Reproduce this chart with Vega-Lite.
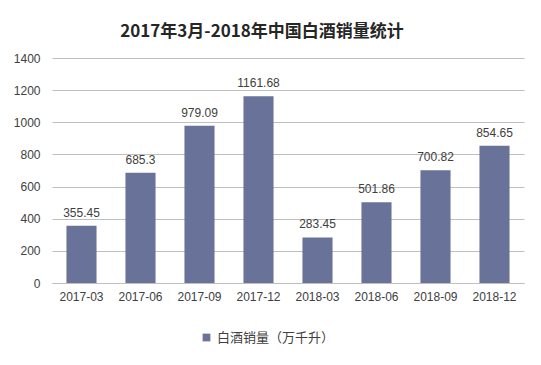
{
  "$schema": "https://vega.github.io/schema/vega-lite/v6.json",
  "width": 472,
  "height": 225,
  "autosize": {"type": "none"},
  "padding": {"left": 52, "top": 58, "right": 17, "bottom": 82},
  "background": "white",
  "title": {
    "text": "2017年3月-2018年中国白酒销量统计",
    "font": "Noto Sans CJK SC",
    "fontSize": 17,
    "fontWeight": "bold",
    "color": "#262626",
    "anchor": "middle",
    "dx": -26,
    "offset": 11
  },
  "data": {
    "values": [
      {"month": "2017-03", "value": 355.45, "series": "白酒销量（万千升）"},
      {"month": "2017-06", "value": 685.3, "series": "白酒销量（万千升）"},
      {"month": "2017-09", "value": 979.09, "series": "白酒销量（万千升）"},
      {"month": "2017-12", "value": 1161.68, "series": "白酒销量（万千升）"},
      {"month": "2018-03", "value": 283.45, "series": "白酒销量（万千升）"},
      {"month": "2018-06", "value": 501.86, "series": "白酒销量（万千升）"},
      {"month": "2018-09", "value": 700.82, "series": "白酒销量（万千升）"},
      {"month": "2018-12", "value": 854.65, "series": "白酒销量（万千升）"}
    ]
  },
  "encoding": {
    "x": {
      "field": "month",
      "type": "nominal",
      "sort": null,
      "scale": {"paddingInner": 0.49, "paddingOuter": 0.245},
      "axis": {
        "title": null,
        "labelAngle": 0,
        "labelFont": "Liberation Sans",
        "labelFontSize": 12,
        "labelColor": "#404040",
        "labelPadding": 8,
        "ticks": false,
        "domainColor": "#bfbfbf",
        "domainWidth": 1
      }
    },
    "y": {
      "field": "value",
      "type": "quantitative",
      "scale": {"domain": [0, 1400]},
      "axis": {
        "title": null,
        "values": [0, 200, 400, 600, 800, 1000, 1200, 1400],
        "format": "d",
        "labelFont": "Liberation Sans",
        "labelFontSize": 12,
        "labelColor": "#404040",
        "labelPadding": 12,
        "ticks": false,
        "domain": false,
        "gridColor": "#bfbfbf",
        "gridWidth": 1
      }
    }
  },
  "layer": [
    {
      "mark": {"type": "bar"},
      "encoding": {
        "color": {
          "field": "series",
          "type": "nominal",
          "scale": {"range": ["#69739A"]},
          "legend": {
            "title": null,
            "orient": "none",
            "legendX": 148,
            "legendY": 273,
            "symbolType": "square",
            "symbolSize": 60,
            "labelFont": "Noto Sans CJK SC",
            "labelFontSize": 13,
            "labelColor": "#404040"
          }
        }
      }
    },
    {
      "mark": {"type": "text", "baseline": "bottom", "dy": -6, "font": "Liberation Sans", "fontSize": 12, "color": "#404040"},
      "encoding": {"text": {"field": "value", "type": "quantitative", "format": ".2~f"}}
    }
  ],
  "config": {"view": {"stroke": null}}
}
